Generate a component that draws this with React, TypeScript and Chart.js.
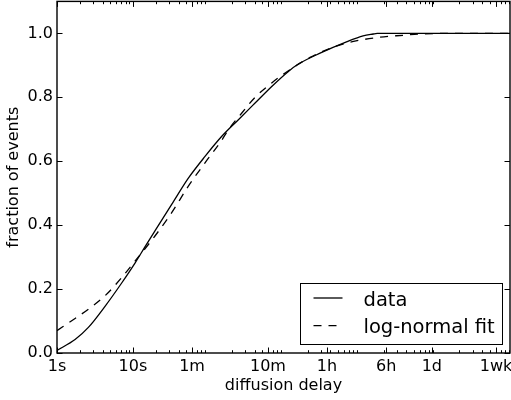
import React, { useEffect, useRef } from 'react';
import { Chart, registerables } from 'chart.js';

Chart.register(...registerables);

// ---- data (seconds, fraction of events) ----
const dataSeconds = [1, 1.73, 2.59, 4.29, 7.11, 10.7, 14.4, 19.5, 32.4, 53.7, 89, 148, 245, 406, 673, 1116, 1510, 2917, 6620, 10760, 14560, 16500, 60000, 925000];
const dataFraction = [0.008, 0.042, 0.08, 0.146, 0.219, 0.282, 0.332, 0.382, 0.465, 0.547, 0.615, 0.678, 0.73, 0.782, 0.834, 0.881, 0.904, 0.938, 0.974, 0.992, 0.998, 1.0, 1.0, 1.0];

const fitSeconds = [1, 1.73, 2.59, 4.29, 7.11, 10.7, 19.5, 32.4, 53.7, 89, 148, 179, 270, 406, 673, 955, 1370, 2153, 4890, 8970, 18000, 36200, 60600, 204000, 925000];
const fitFraction = [0.07, 0.108, 0.137, 0.179, 0.236, 0.288, 0.366, 0.439, 0.522, 0.595, 0.666, 0.697, 0.75, 0.8, 0.845, 0.872, 0.897, 0.925, 0.961, 0.977, 0.988, 0.994, 0.998, 1.0, 1.0];

const xTickValues = [1, 10, 60, 600, 3600, 21600, 86400, 604800];
const xTickLabels = ['1s', '10s', '1m', '10m', '1h', '6h', '1d', '1wk'];
const yTickValues = [0, 0.2, 0.4, 0.6, 0.8, 1.0];
const yTickLabels = ['0.0', '0.2', '0.4', '0.6', '0.8', '1.0'];

const seriesLabels = ['data', 'log-normal fit'];
const xTitle = 'diffusion delay';
const yTitle = 'fraction of events';

const X_MIN = 1;
const X_MAX = 925000;
const Y_MIN = 0;
const Y_MAX = 1.1;

const FONT = "'DejaVu Sans', sans-serif";

const tickPlugin = {
  id: 'inwardTicks',
  afterDraw(chart: any) {
    const { ctx, chartArea: a, scales } = chart;
    const x = scales.x;
    const y = scales.y;
    ctx.save();
    ctx.strokeStyle = '#000';
    ctx.lineWidth = 1;
    const seg = (x1: number, y1: number, x2: number, y2: number) => {
      ctx.beginPath();
      ctx.moveTo(x1, y1);
      ctx.lineTo(x2, y2);
      ctx.stroke();
    };
    // minor x ticks (log)
    for (let e = 0; e < 7; e++) {
      for (let m = 2; m <= 9; m++) {
        const v = m * Math.pow(10, e);
        if (v < x.min || v > x.max) continue;
        const px = Math.round(x.getPixelForValue(v)) + 0.5;
        seg(px, a.bottom, px, a.bottom - 2.8);
        seg(px, a.top, px, a.top + 2.8);
      }
    }
    // major x ticks
    for (const v of xTickValues) {
      const px = Math.round(x.getPixelForValue(v)) + 0.5;
      seg(px, a.bottom, px, a.bottom - 5.5);
      seg(px, a.top, px, a.top + 5.5);
    }
    // major y ticks
    for (const v of yTickValues) {
      const py = Math.round(y.getPixelForValue(v)) + 0.5;
      seg(a.left, py, a.left + 5.5, py);
      seg(a.right, py, a.right - 5.5, py);
    }
    // frame
    ctx.lineWidth = 1.4;
    ctx.strokeRect(a.left, a.top, a.right - a.left, a.bottom - a.top);
    ctx.restore();
  },
};

const legendPlugin = {
  id: 'boxLegend',
  afterDraw(chart: any) {
    const { ctx, chartArea: a } = chart;
    const w = 202;
    const h = 61;
    const x0 = Math.round(a.right - 210) + 0.5;
    const y0 = Math.round(a.bottom - 70.5) + 0.5;
    ctx.save();
    ctx.fillStyle = '#fff';
    ctx.fillRect(x0, y0, w, h);
    ctx.strokeStyle = '#000';
    ctx.lineWidth = 1;
    ctx.strokeRect(x0, y0, w, h);
    ctx.font = `19.5px ${FONT}`;
    ctx.textBaseline = 'alphabetic';
    ctx.textAlign = 'left';
    chart.data.datasets.forEach((ds: any, i: number) => {
      const ly = y0 + 14.5 + 27.6 * i;
      ctx.strokeStyle = ds.borderColor;
      ctx.lineWidth = ds.borderWidth;
      ctx.setLineDash(ds.borderDash || []);
      ctx.beginPath();
      ctx.moveTo(x0 + 13, ly);
      ctx.lineTo(x0 + 42, ly);
      ctx.stroke();
      ctx.setLineDash([]);
      ctx.fillStyle = '#000';
      ctx.fillText(ds.label, x0 + 63, y0 + 22 + 27.3 * i);
    });
    ctx.restore();
  },
};

export default function App() {
  const canvasRef = useRef<HTMLCanvasElement | null>(null);

  useEffect(() => {
    const canvas = canvasRef.current;
    if (!canvas) return;
    Chart.defaults.font.family = FONT;
    Chart.defaults.font.size = 16;
    Chart.defaults.color = '#000';

    const chart = new Chart(canvas, {
      type: 'line',
      data: {
        datasets: [
          {
            label: seriesLabels[0],
            data: dataSeconds.map((s, i) => ({ x: s, y: dataFraction[i] })),
            borderColor: '#000',
            borderWidth: 1.3,
            pointRadius: 0,
            fill: false,
            cubicInterpolationMode: 'monotone',
          },
          {
            label: seriesLabels[1],
            data: fitSeconds.map((s, i) => ({ x: s, y: fitFraction[i] })),
            borderColor: '#000',
            borderWidth: 1.3,
            borderDash: [8, 7],
            pointRadius: 0,
            fill: false,
            cubicInterpolationMode: 'monotone',
          },
        ],
      },
      options: {
        animation: false,
        responsive: false,
        maintainAspectRatio: false,
        layout: { padding: { top: 1.4, right: 1, bottom: 0, left: 0 } },
        plugins: {
          legend: { display: false },
          tooltip: { enabled: false },
        },
        scales: {
          x: {
            type: 'logarithmic',
            min: X_MIN,
            max: X_MAX,
            grid: { display: false, drawTicks: false },
            border: { display: false },
            afterBuildTicks: (scale: any) => {
              scale.ticks = xTickValues.map((v) => ({ value: v }));
            },
            afterFit: (scale: any) => {
              scale.height = 47;
              scale.paddingLeft = 0;
              scale.paddingRight = 0;
            },
            ticks: {
              autoSkip: false,
              maxRotation: 0,
              minRotation: 0,
              padding: 4,
              color: '#000',
              font: { size: 16, family: FONT },
              callback: (_v: any, i: number) => xTickLabels[i],
            },
            title: {
              display: true,
              text: xTitle,
              color: '#000',
              font: { size: 16, family: FONT },
              padding: { top: 0, bottom: 5 },
            },
          },
          y: {
            type: 'linear',
            min: Y_MIN,
            max: Y_MAX,
            grid: { display: false, drawTicks: false },
            border: { display: false },
            afterBuildTicks: (scale: any) => {
              scale.ticks = yTickValues.map((v) => ({ value: v }));
            },
            afterFit: (scale: any) => {
              scale.width = 57;
              scale.paddingTop = 0;
              scale.paddingBottom = 0;
            },
            ticks: {
              padding: 4,
              color: '#000',
              font: { size: 16, family: FONT },
              callback: (_v: any, i: number) => yTickLabels[i],
            },
            title: {
              display: true,
              text: yTitle,
              color: '#000',
              font: { size: 16, family: FONT },
              padding: { top: 4, bottom: 0 },
            },
          },
        },
      },
      plugins: [tickPlugin, legendPlugin],
    } as any);

    return () => chart.destroy();
  }, []);

  return (
    <div style={{ position: 'fixed', left: 0, top: 0, width: 511, height: 400, background: '#fff' }}>
      <canvas ref={canvasRef} width={511} height={400} style={{ display: 'block', width: 511, height: 400 }} />
    </div>
  );
}
